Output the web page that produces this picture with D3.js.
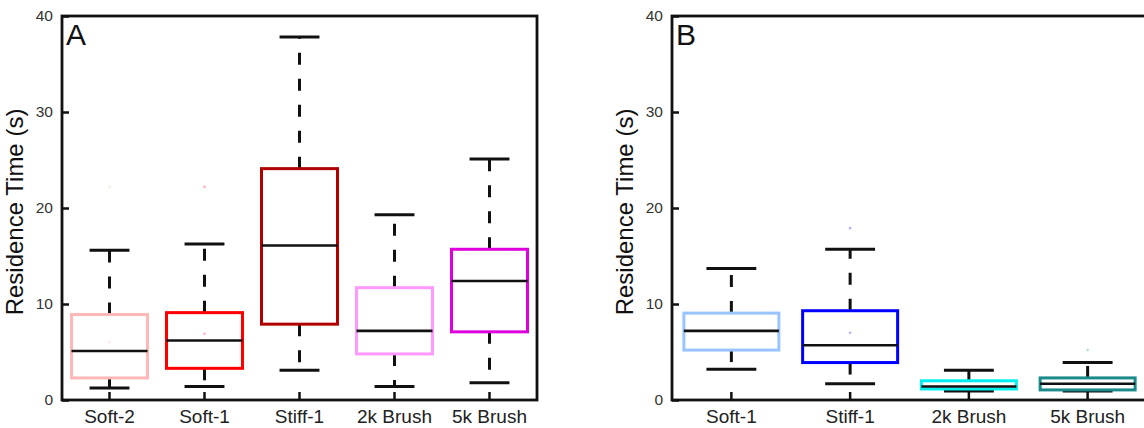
<!DOCTYPE html>
<html>
<head>
<meta charset="utf-8">
<script src="https://cdn.jsdelivr.net/npm/d3@7/dist/d3.min.js"></script>
<style>
  body { margin: 0; background: #fff; }
  svg { display: block; font-family: "Liberation Sans", Arial, sans-serif; }
</style>
</head>
<body>
<div id="chart"></div>
<script>
// panel A
var catsA = ['Soft-2', 'Soft-1', 'Stiff-1', '2k Brush', '5k Brush'];
var lowA = [1.25, 1.4, 3.1, 1.4, 1.8];
var q1A = [2.3, 3.3, 7.9, 4.8, 7.1];
var medA = [5.1, 6.2, 16.1, 7.2, 12.4];
var q3A = [8.9, 9.1, 24.1, 11.7, 15.7];
var highA = [15.6, 16.25, 37.8, 19.3, 25.1];
var meanA = [6.0, 6.9, null, null, null];
var outA = [22.2, 22.2, null, null, null];
var colorsA = ['#ffb8b8', '#ff0000', '#b00000', '#ff99ff', '#dd00dd'];

// panel B
var catsB = ['Soft-1', 'Stiff-1', '2k Brush', '5k Brush'];
var lowB = [3.2, 1.7, 0.95, 0.95];
var q1B = [5.2, 3.9, 1.15, 1.05];
var medB = [7.2, 5.7, 1.4, 1.7];
var q3B = [9.05, 9.3, 2.0, 2.3];
var highB = [13.7, 15.7, 3.1, 3.9];
var meanB = [null, 7.0, null, null];
var outB = [null, 17.9, null, 5.2];
var colorsB = ['#99c4ff', '#0000ff', '#00f0f0', '#1a8a8a'];

var yTicks = [0, 10, 20, 30, 40];

var width = 1144, height = 428;
var plotW = 475, plotH = 384;

var svg = d3.select('#chart').append('svg')
    .attr('width', width)
    .attr('height', height);

function panel(x0, letter, cats, low, q1, med, q3, high, mean, out, colors) {
    var g = svg.append('g')
        .attr('transform', 'translate(' + x0 + ',16)');

    var xScale = d3.scaleBand().domain(cats).range([0, plotW]).padding(0);
    var yScale = d3.scaleLinear().domain([0, 40]).range([plotH, 0]);
    var bw = xScale.bandwidth();

    // y axis
    var yAxis = d3.axisLeft(yScale)
        .tickValues(yTicks)
        .tickSizeInner(-7)
        .tickSizeOuter(0)
        .tickPadding(9);
    var ya = g.append('g').call(yAxis);
    ya.select('.domain').remove();
    ya.selectAll('line').attr('stroke', '#111').attr('stroke-width', 2.5);
    ya.selectAll('text').attr('font-size', 15.5).attr('fill', '#333')
        .attr('font-family', '"Liberation Sans", Arial, sans-serif');

    // x axis
    var xAxis = d3.axisBottom(xScale)
        .tickSizeInner(-8)
        .tickSizeOuter(0)
        .tickPadding(10);
    var xa = g.append('g').attr('transform', 'translate(0,' + plotH + ')').call(xAxis);
    xa.select('.domain').remove();
    xa.selectAll('line').attr('stroke', '#111').attr('stroke-width', 2.5);
    xa.selectAll('text').attr('font-size', 19).attr('fill', '#222')
        .attr('font-family', '"Liberation Sans", Arial, sans-serif');

    // frame
    g.append('rect')
        .attr('x', 0).attr('y', 0)
        .attr('width', plotW).attr('height', plotH)
        .attr('fill', 'none')
        .attr('stroke', '#111')
        .attr('stroke-width', 2.8);

    // axis title
    g.append('text')
        .attr('transform', 'translate(' + (-39) + ',' + (plotH / 2 + 4) + ') rotate(-90)')
        .attr('text-anchor', 'middle')
        .attr('font-size', 24)
        .attr('fill', '#111')
        .text('Residence Time (s)');

    g.append('text')
        .attr('x', 4).attr('y', 29)
        .attr('font-size', 30)
        .attr('fill', '#111')
        .text(letter);

    cats.forEach(function(c, i) {
        var cx = xScale(c) + bw / 2;
        var boxW = bw * 0.8, capW = bw * 0.42;
        var b = g.append('g');

        // whiskers (dashed)
        b.append('line')
            .attr('x1', cx).attr('x2', cx)
            .attr('y1', yScale(q3[i])).attr('y2', yScale(high[i]))
            .attr('stroke', '#111').attr('stroke-width', 3)
            .attr('stroke-dasharray', '12,14');
        b.append('line')
            .attr('x1', cx).attr('x2', cx)
            .attr('y1', yScale(q1[i])).attr('y2', yScale(low[i]))
            .attr('stroke', '#111').attr('stroke-width', 3)
            .attr('stroke-dasharray', '12,14');

        // caps
        [low[i], high[i]].forEach(function(v) {
            b.append('line')
                .attr('x1', cx - capW / 2).attr('x2', cx + capW / 2)
                .attr('y1', yScale(v)).attr('y2', yScale(v))
                .attr('stroke', '#111').attr('stroke-width', 3);
        });

        // box
        b.append('rect')
            .attr('x', cx - boxW / 2)
            .attr('y', yScale(q3[i]))
            .attr('width', boxW)
            .attr('height', yScale(q1[i]) - yScale(q3[i]))
            .attr('fill', 'none')
            .attr('stroke', colors[i])
            .attr('stroke-width', 3);

        // median
        b.append('line')
            .attr('x1', cx - boxW / 2).attr('x2', cx + boxW / 2)
            .attr('y1', yScale(med[i])).attr('y2', yScale(med[i]))
            .attr('stroke', '#111').attr('stroke-width', 2.6);

        // faint mean / outlier dots
        [mean[i], out[i]].forEach(function(v) {
            if (v === null) return;
            b.append('circle')
                .attr('cx', cx).attr('cy', yScale(v))
                .attr('r', 1.3)
                .attr('fill', colors[i])
                .attr('opacity', 0.3);
        });
    });
}

panel(62, 'A', catsA, lowA, q1A, medA, q3A, highA, meanA, outA, colorsA);
panel(672, 'B', catsB, lowB, q1B, medB, q3B, highB, meanB, outB, colorsB);
</script>
</body>
</html>
